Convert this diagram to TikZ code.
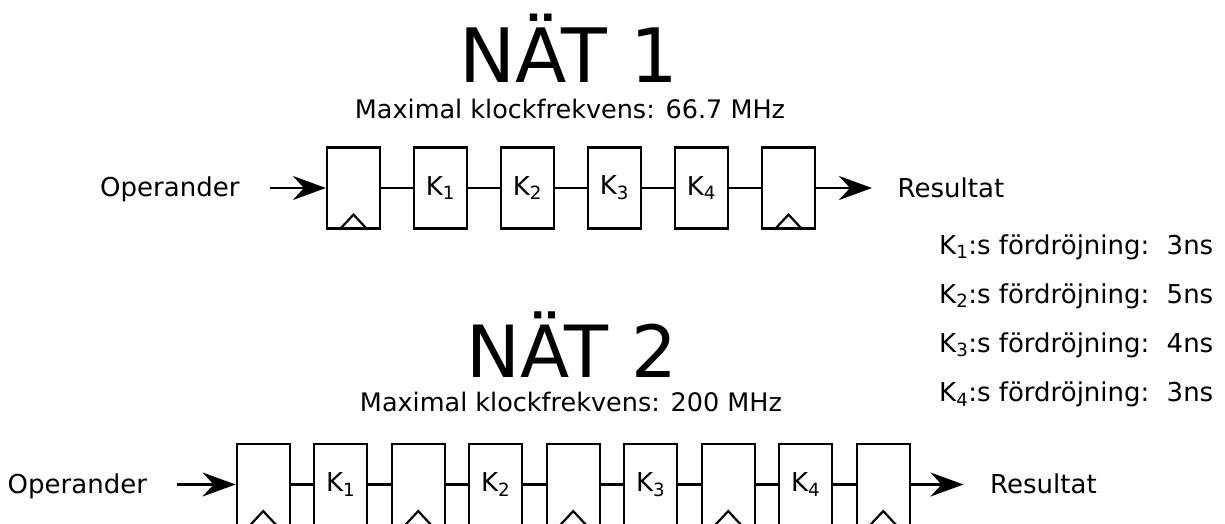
\documentclass[tikz,border=0pt]{standalone}
\usepackage{fontspec}
\setmainfont{DejaVu Sans}
\usetikzlibrary{arrows.meta}
\begin{document}
\begin{tikzpicture}[x=1pt,y=-1pt,
  blk/.style={draw, line width=2.2pt, minimum width=53pt, minimum height=81pt, inner sep=0pt, font=\fontsize{26}{30}\selectfont},
  wire/.style={line width=2.2pt},
  clk/.style={line width=2.2pt},
  arr/.style={line width=2.2pt, -{Stealth[length=33pt,width=24pt,inset=11pt]}},
  txt/.style={anchor=base west, inner sep=0pt, font=\fontsize{26}{30}\selectfont},
  ttl/.style={anchor=base, inner sep=0pt},
]
\clip (0,0) rectangle (1225,523);
\fill[white] (0,0) rectangle (1225,523);

% ---------- NÄT 1 ----------
\node[ttl, font=\fontsize{75}{80}\selectfont] (t1) at (569,82) {NÄT 1};
\node[ttl, font=\fontsize{25.5}{30}\selectfont] (s1) at (570,118.5) {Maximal klockfrekvens: 66.7 MHz};

\node[blk] (a1) at (353.5,188) {};
\node[blk] (ak1) at (440.5,188) {K\textsubscript{1}};
\node[blk] (ak2) at (527.5,188) {K\textsubscript{2}};
\node[blk] (ak3) at (614.5,188) {K\textsubscript{3}};
\node[blk] (ak4) at (701.5,188) {K\textsubscript{4}};
\node[blk] (a2) at (788.5,188) {};
\foreach \r in {a1,a2}{
  \draw[clk] ([xshift=-14pt]\r.south) -- ([yshift=15pt]\r.south) -- ([xshift=14pt]\r.south);
}
\draw[wire] (a1.east) -- (ak1.west);
\draw[wire] (ak1.east) -- (ak2.west);
\draw[wire] (ak2.east) -- (ak3.west);
\draw[wire] (ak3.east) -- (ak4.west);
\draw[wire] (ak4.east) -- (a2.west);

\node[txt] (op1) at (100,196.5) {Operander};
\node[txt] (re1) at (897.5,197) {Resultat};
\coordinate (ain) at (270,188);
\coordinate (aout) at (872,188);
\draw[arr] (ain) -- (a1.west);
\draw[arr] (a2.east) -- (aout);

% ---------- delays ----------
\node[txt] (d1) at (939,254) {K\textsubscript{1}:s fördröjning:};
\node[txt] (n1) at (1166.5,254) {3ns};
\node[txt] (d2) at (939,303) {K\textsubscript{2}:s fördröjning:};
\node[txt] (n2) at (1166.5,303) {5ns};
\node[txt] (d3) at (939,352) {K\textsubscript{3}:s fördröjning:};
\node[txt] (n3) at (1166.5,352) {4ns};
\node[txt] (d4) at (939,401.5) {K\textsubscript{4}:s fördröjning:};
\node[txt] (n4) at (1166.5,401.5) {3ns};

% ---------- NÄT 2 ----------
\node[ttl, font=\fontsize{72}{78}\selectfont] (t2) at (572,377) {NÄT 2};
\node[ttl, font=\fontsize{25.5}{30}\selectfont] (s2) at (571,411) {Maximal klockfrekvens: 200 MHz};

\node[blk] (b1) at (263.2,484.5) {};
\node[blk] (bk1) at (340.7,484.5) {K\textsubscript{1}};
\node[blk] (b2) at (418.2,484.5) {};
\node[blk] (bk2) at (495.7,484.5) {K\textsubscript{2}};
\node[blk] (b3) at (573.2,484.5) {};
\node[blk] (bk3) at (650.7,484.5) {K\textsubscript{3}};
\node[blk] (b4) at (728.2,484.5) {};
\node[blk] (bk4) at (805.7,484.5) {K\textsubscript{4}};
\node[blk] (b5) at (883.2,484.5) {};
\foreach \r in {b1,b2,b3,b4,b5}{
  \draw[clk] ([xshift=-14pt]\r.south) -- ([yshift=15pt]\r.south) -- ([xshift=14pt]\r.south);
}
\draw[wire] (b1.east) -- (bk1.west);
\draw[wire] (bk1.east) -- (b2.west);
\draw[wire] (b2.east) -- (bk2.west);
\draw[wire] (bk2.east) -- (b3.west);
\draw[wire] (b3.east) -- (bk3.west);
\draw[wire] (bk3.east) -- (b4.west);
\draw[wire] (b4.east) -- (bk4.west);
\draw[wire] (bk4.east) -- (b5.west);

\node[txt] (op2) at (7.5,493) {Operander};
\node[txt] (re2) at (990,493) {Resultat};
\coordinate (bin) at (177,484.5);
\coordinate (bout) at (963.5,484.5);
\draw[arr] (bin) -- (b1.west);
\draw[arr] (b5.east) -- (bout);
\end{tikzpicture}
\end{document}
